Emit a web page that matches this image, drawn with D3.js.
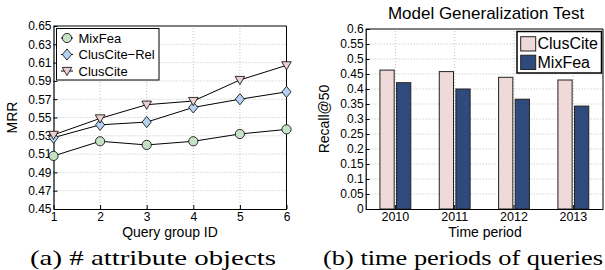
<!DOCTYPE html>
<html>
<head>
<meta charset="utf-8">
<script src="https://cdn.jsdelivr.net/npm/d3@7"></script>
<style>
  body { margin: 0; background: #fff; }
  svg text { font-family: "Liberation Sans", Arial, sans-serif; fill: #000; }
  svg text.legende { font-family: "Liberation Serif", "Times New Roman", serif; }
</style>
</head>
<body>
<svg id="fig" width="605" height="270"></svg>
<script>
// données
const groupes = [1, 2, 3, 4, 5, 6];
const mrrMixFea = [0.508, 0.524, 0.520, 0.524, 0.532, 0.537];
const mrrClusCiteRel = [0.528, 0.542, 0.545, 0.561, 0.570, 0.578];
const mrrClusCite = [0.531, 0.549, 0.564, 0.568, 0.591, 0.607];
const ticksMRR = [0.45, 0.47, 0.49, 0.51, 0.53, 0.55, 0.57, 0.59, 0.61, 0.63, 0.65];

const annees = ["2010", "2011", "2012", "2013"];
const recallClusCite = [0.463, 0.458, 0.439, 0.430];
const recallMixFea = [0.421, 0.400, 0.366, 0.343];
const ticksRecall = [0, 0.05, 0.1, 0.15, 0.2, 0.25, 0.3, 0.35, 0.4, 0.45, 0.5, 0.55, 0.6];

const svg = d3.select("#fig");
const grisGrille = "#b0b0b0";

// ---------- (a) courbes MRR ----------
const gA = svg.append("g");
const xA = d3.scaleLinear().domain([1, 6]).range([53.5, 286.5]);
const yA = d3.scaleLinear().domain([0.45, 0.65]).range([209, 26]);

// grille pointillée
gA.selectAll(".gy").data(ticksMRR.slice(1, -1)).enter().append("line")
  .attr("x1", xA(1)).attr("x2", xA(6))
  .attr("y1", d => yA(d)).attr("y2", d => yA(d))
  .attr("stroke", grisGrille).attr("stroke-width", 0.8).attr("stroke-dasharray", "1,2");
gA.selectAll(".gx").data(groupes.slice(1, -1)).enter().append("line")
  .attr("x1", d => xA(d)).attr("x2", d => xA(d))
  .attr("y1", yA(0.45)).attr("y2", yA(0.65))
  .attr("stroke", grisGrille).attr("stroke-width", 0.8).attr("stroke-dasharray", "1,2");

// axes
gA.append("g").attr("transform", `translate(0,${yA(0.45)})`)
  .call(d3.axisBottom(xA).tickValues(groupes).tickFormat(d3.format("d")).tickSizeInner(-4).tickSizeOuter(0).tickPadding(3))
  .call(g => g.select(".domain").attr("stroke-width", 1.2))
  .selectAll("text").attr("font-size", 12);
gA.append("g").attr("transform", `translate(${xA(1)},0)`)
  .call(d3.axisLeft(yA).tickValues(ticksMRR).tickFormat(d => d.toFixed(2)).tickSizeInner(-4).tickSizeOuter(0).tickPadding(2))
  .call(g => g.select(".domain").attr("stroke-width", 1.2))
  .selectAll("text").attr("font-size", 12);
// cadre haut / droite
gA.append("line").attr("x1", xA(1)).attr("x2", xA(6)).attr("y1", yA(0.65)).attr("y2", yA(0.65)).attr("stroke", "#000");
gA.append("line").attr("x1", xA(6)).attr("x2", xA(6)).attr("y1", yA(0.65)).attr("y2", yA(0.45)).attr("stroke", "#000");

gA.append("text").attr("x", (xA(1) + xA(6)) / 2).attr("y", 236.5).attr("text-anchor", "middle")
  .attr("font-size", 14).text("Query group ID");
gA.append("text").attr("transform", `translate(17,${yA(0.55)}) rotate(-90)`).attr("text-anchor", "middle")
  .attr("font-size", 14).text("MRR");

// marqueurs
function marqueur(g, type, cx, cy, fill) {
  if (type === "cercle") {
    g.append("circle").attr("cx", cx).attr("cy", cy).attr("r", 4.6)
      .attr("fill", fill).attr("stroke", "#000").attr("stroke-width", 0.8);
  } else if (type === "losange") {
    g.append("path").attr("d", `M${cx},${cy - 5.6}L${cx + 4.6},${cy}L${cx},${cy + 5.6}L${cx - 4.6},${cy}Z`)
      .attr("fill", fill).attr("stroke", "#000").attr("stroke-width", 0.8);
  } else {
    g.append("path").attr("d", `M${cx - 4.8},${cy - 3.6}L${cx + 4.8},${cy - 3.6}L${cx},${cy + 4.6}Z`)
      .attr("fill", fill).attr("stroke", "#000").attr("stroke-width", 0.8);
  }
}

const series = [
  { nom: "MixFea", vals: mrrMixFea, type: "cercle", fill: "#c6e2c6" },
  { nom: "ClusCite\u2212Rel", vals: mrrClusCiteRel, type: "losange", fill: "#b6d2f2" },
  { nom: "ClusCite", vals: mrrClusCite, type: "triangle", fill: "#ecd0d0" }
];
const ligne = d3.line().x((d, i) => xA(groupes[i])).y(d => yA(d));
series.forEach(s => {
  gA.append("path").attr("d", ligne(s.vals)).attr("fill", "none").attr("stroke", "#000").attr("stroke-width", 1);
  s.vals.forEach((v, i) => marqueur(gA, s.type, xA(groupes[i]), yA(v), s.fill));
});

// légende (a)
gA.append("rect").attr("x", 56.5).attr("y", 28.5).attr("width", 102.5).attr("height", 51.5)
  .attr("fill", "#fff").attr("stroke", "#000").attr("stroke-width", 1);
series.forEach((s, i) => {
  const yy = 38 + i * 16.5;
  gA.append("line").attr("x1", 61).attr("x2", 73).attr("y1", yy).attr("y2", yy).attr("stroke", "#000");
  marqueur(gA, s.type, 67, yy, s.fill);
  gA.append("text").attr("x", 78.5).attr("y", yy + 4.8).attr("font-size", 13).text(s.nom);
});

// ---------- (b) barres Recall@50 ----------
const gB = svg.append("g");
const xB = d3.scaleBand().domain(annees).range([365.7, 603]).padding(0);
const yB = d3.scaleLinear().domain([0, 0.6]).range([209, 29]);
const bw = xB.bandwidth();

gB.selectAll(".gy").data(ticksRecall.slice(1, -1)).enter().append("line")
  .attr("x1", 365.7).attr("x2", 603)
  .attr("y1", d => yB(d)).attr("y2", d => yB(d))
  .attr("stroke", grisGrille).attr("stroke-width", 0.8).attr("stroke-dasharray", "1,2");
gB.selectAll(".gx").data(annees).enter().append("line")
  .attr("x1", d => xB(d) + bw / 2).attr("x2", d => xB(d) + bw / 2)
  .attr("y1", yB(0)).attr("y2", yB(0.6))
  .attr("stroke", grisGrille).attr("stroke-width", 0.8).attr("stroke-dasharray", "1,2");

const largeurBarre = bw * 0.24;
const ecart = bw * 0.02;
gB.selectAll(".bc").data(recallClusCite).enter().append("rect")
  .attr("x", (d, i) => xB(annees[i]) + bw / 2 - ecart - largeurBarre)
  .attr("y", d => yB(d)).attr("width", largeurBarre).attr("height", d => yB(0) - yB(d))
  .attr("fill", "#efd9d9").attr("stroke", "#222").attr("stroke-width", 1);
gB.selectAll(".bm").data(recallMixFea).enter().append("rect")
  .attr("x", (d, i) => xB(annees[i]) + bw / 2 + ecart)
  .attr("y", d => yB(d)).attr("width", largeurBarre).attr("height", d => yB(0) - yB(d))
  .attr("fill", "#2f4a7c").attr("stroke", "#222").attr("stroke-width", 1);

gB.append("g").attr("transform", `translate(0,${yB(0)})`)
  .call(d3.axisBottom(xB).tickSizeInner(-4).tickSizeOuter(0).tickPadding(3))
  .call(g => g.select(".domain").attr("stroke-width", 1.2))
  .selectAll("text").attr("font-size", 12.5);
gB.append("g").attr("transform", `translate(365.7,0)`)
  .call(d3.axisLeft(yB).tickValues(ticksRecall).tickFormat(d => String(+d.toFixed(2))).tickSizeInner(-4).tickSizeOuter(0).tickPadding(2))
  .call(g => g.select(".domain").attr("stroke-width", 1.2))
  .selectAll("text").attr("font-size", 12);
gB.append("line").attr("x1", 365.7).attr("x2", 603).attr("y1", yB(0.6)).attr("y2", yB(0.6)).attr("stroke", "#000");
gB.append("line").attr("x1", 603).attr("x2", 603).attr("y1", yB(0.6)).attr("y2", yB(0)).attr("stroke", "#000");

gB.append("text").attr("x", 486).attr("y", 18.5).attr("text-anchor", "middle")
  .attr("font-size", 17).text("Model Generalization Test");
gB.append("text").attr("x", 485).attr("y", 236.5).attr("text-anchor", "middle")
  .attr("font-size", 14).text("Time period");
gB.append("text").attr("transform", `translate(329,${yB(0.3)}) rotate(-90)`).attr("text-anchor", "middle")
  .attr("font-size", 14).text("Recall@50");

// légende (b)
gB.append("rect").attr("x", 517).attr("y", 31.5).attr("width", 84.5).attr("height", 41.5)
  .attr("fill", "#fff").attr("stroke", "#000").attr("stroke-width", 1.5);
[["ClusCite", "#efd9d9"], ["MixFea", "#2f4a7c"]].forEach((e, i) => {
  const yy = 36.7 + i * 18.5;
  gB.append("rect").attr("x", 520.7).attr("y", yy).attr("width", 15).attr("height", 14.3)
    .attr("fill", e[1]).attr("stroke", "#222").attr("stroke-width", 1);
  gB.append("text").attr("x", 537.5).attr("y", yy + 12.5).attr("font-size", 16).text(e[0]);
});

// ---------- légendes des sous-figures ----------
svg.append("text").attr("class", "legende").attr("x", 30).attr("y", 265)
  .attr("font-size", 22).attr("textLength", 246).attr("lengthAdjust", "spacingAndGlyphs")
  .text("(a) # attribute objects");
svg.append("text").attr("class", "legende").attr("x", 323).attr("y", 265)
  .attr("font-size", 22).attr("textLength", 280).attr("lengthAdjust", "spacingAndGlyphs")
  .text("(b) time periods of queries");
</script>
</body>
</html>
